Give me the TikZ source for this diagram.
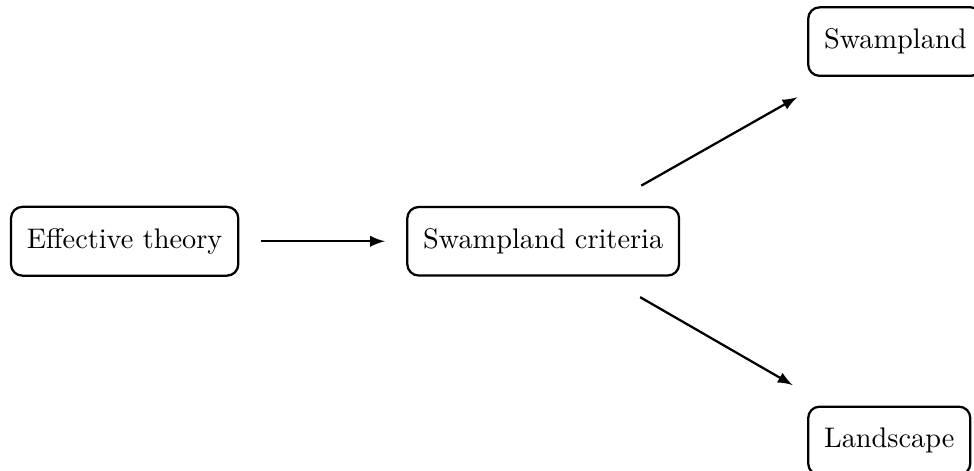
\documentclass[tikz,border=0pt]{standalone}
\usepackage{amsmath}
\usepackage{tikz}
\usetikzlibrary{calc, positioning, arrows}

\begin{document}
\begin{tikzpicture}[
        block/.style={draw, thick, rounded corners=4pt, inner xsep=5.6pt, inner ysep=7.6pt},
        link/.style={thick, -latex}
    ]
        \node[block](eff){Effective theory};
        \node[block](crit)[right = 2.07cm of eff]{Swampland criteria};
        \node[block](swamp)[above right = 1.6cm and 1.575cm of crit]{Swampland};
        \node[block](land)[below right = 1.6cm and 1.575cm of crit]{Landscape};

        \path[draw, link]
        (eff) edge[shorten <=7.5pt, shorten >=7.5pt] node {} (crit)
        (crit) edge[shorten <=14.5pt, shorten >=14.5pt] node {} (swamp)
        (crit) edge[shorten <=14.5pt, shorten >=14.5pt] node {} (land);

        \pgfresetboundingbox
        \useasboundingbox ($(eff.west |- swamp.north)+(-3.5pt,2.2pt)$) rectangle ++(344pt,-166pt);
    \end{tikzpicture}
\end{document}
